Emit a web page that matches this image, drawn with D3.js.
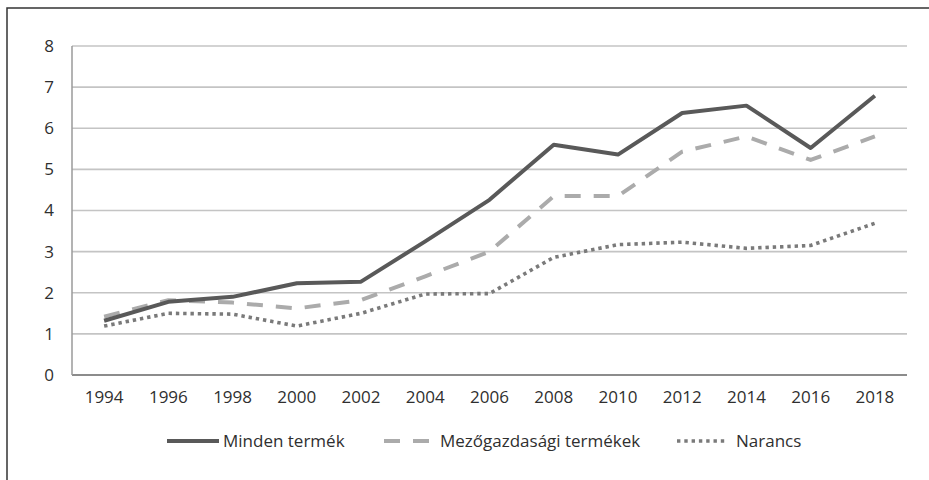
<!DOCTYPE html>
<html><head><meta charset="utf-8">
<script src="https://cdn.jsdelivr.net/npm/d3@7"></script>
<style>
html,body{margin:0;padding:0;background:#fff;}
svg{display:block;font-family:"Open Sans",sans-serif;}
</style></head>
<body>
<svg id="c" width="929" height="480"></svg>
<script>
const years = ["1994","1996","1998","2000","2002","2004","2006","2008","2010","2012","2014","2016","2018"];
const mindenTermek = [1.32,1.78,1.9,2.23,2.27,3.25,4.26,5.6,5.36,6.37,6.55,5.52,6.79];
const mezogazdasagi = [1.42,1.82,1.76,1.62,1.82,2.4,3.0,4.35,4.35,5.43,5.8,5.23,5.8];
const narancs = [1.19,1.5,1.48,1.19,1.5,1.97,1.98,2.86,3.17,3.23,3.08,3.15,3.69];
const seriesNames = ["Minden termék","Mezőgazdasági termékek","Narancs"];
const yTicks = [0,1,2,3,4,5,6,7,8];

const svg = d3.select("#c");
// frame (top and left only)
svg.append("path").attr("d","M7,480V8H929").attr("fill","none").attr("stroke","#333").attr("stroke-width",1.5);

const x = d3.scaleBand().domain(years).range([72,907]);
const y = d3.scaleLinear().domain([0,8]).range([375,46]);

// gridlines
svg.append("g").selectAll("line").data(yTicks).join("line")
  .attr("x1",72).attr("x2",907).attr("y1",d=>y(d)).attr("y2",d=>y(d))
  .attr("stroke",d=>d===0?"#8c8c8c":"#c4c4c4").attr("stroke-width",d=>d===0?1.8:1.6);
svg.append("line").attr("x1",72).attr("x2",72).attr("y1",y(8)).attr("y2",y(0))
  .attr("stroke","#9a9a9a").attr("stroke-width",1.5);

// y axis labels
const yAxis = d3.axisLeft(y).tickValues(yTicks).tickSize(0).tickPadding(0).tickFormat(d3.format("d"));
const gy = svg.append("g").attr("transform","translate(54,0)").call(yAxis);
gy.select(".domain").remove();
gy.selectAll("text").attr("font-size",17).attr("fill","#2f2f2f").attr("font-family","Open Sans");

// x axis labels
const xAxis = d3.axisBottom(x).tickSize(0).tickPadding(0);
const gx = svg.append("g").attr("transform","translate(0,391)").call(xAxis);
gx.select(".domain").remove();
gx.selectAll("text").attr("font-size",17).attr("fill","#2f2f2f").attr("font-family","Open Sans");

const styles = [
  {data:mindenTermek, color:"#595959", w:4, dash:null, cap:"butt"},
  {data:mezogazdasagi, color:"#ababab", w:4, dash:"16,13", cap:"butt"},
  {data:narancs, color:"#7a7a7a", w:3.6, dash:"3.4,3.9", cap:"butt"}
];
const line = d3.line().x((d,i)=>x(years[i])+x.bandwidth()/2).y(d=>y(d));
[2,1,0].forEach(k=>{
  const s = styles[k];
  svg.append("path").attr("d",line(s.data)).attr("fill","none")
    .attr("stroke",s.color).attr("stroke-width",s.w).attr("stroke-linejoin","round")
    .attr("stroke-linecap",s.cap).attr("stroke-dasharray",s.dash);
});

// legend
const legendItems = [
  {x1:167,x2:219,tx:223},
  {x1:384,x2:430,tx:440},
  {x1:677,x2:728,tx:736}
];
const lg = svg.append("g");
legendItems.forEach((it,k)=>{
  const s = styles[k];
  lg.append("line").attr("x1",it.x1).attr("x2",it.x2).attr("y1",441).attr("y2",441)
    .attr("stroke",s.color).attr("stroke-width",s.w).attr("stroke-dasharray",s.dash);
  lg.append("text").attr("x",it.tx).attr("y",441).attr("dy","0.35em")
    .attr("font-size",17).attr("fill","#2f2f2f").text(seriesNames[k]);
});
</script>
</body></html>
